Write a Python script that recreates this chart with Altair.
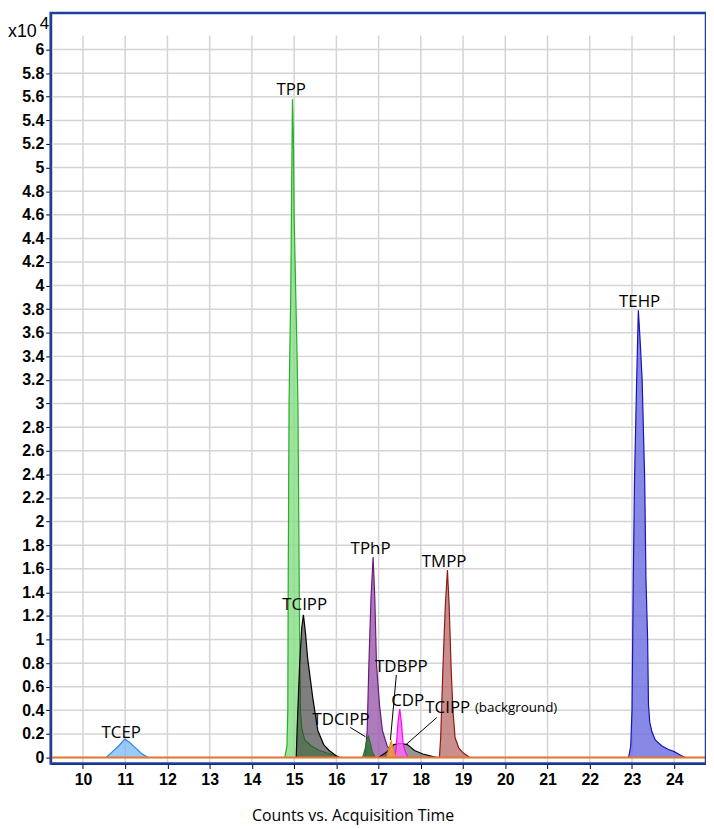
import altair as alt
import pandas as pd

# ---- peak traces: acquisition time (min) vs counts (x10^4) ----
tcep_t = [10.55, 10.7, 10.85, 10.99, 11.1, 11.25, 11.4, 11.55]
tcep_y = [0, 0.05, 0.10, 0.156, 0.13, 0.08, 0.03, 0]

tpp_t = [14.78, 14.83, 14.85, 14.86, 14.88, 14.9, 14.92, 14.94, 14.96, 14.98, 15.0, 15.04, 15.07,
         15.09, 15.11, 15.13, 15.15, 15.18, 15.25, 15.4, 15.6, 15.85, 16.1]
tpp_y = [0, 0.1, 0.4, 1.5, 3.0, 3.5, 3.9, 4.8, 5.58, 5.3, 4.6, 3.9, 3.4,
         3.0, 2.0, 1.0, 0.4, 0.25, 0.15, 0.1, 0.06, 0.03, 0]

tcipp_t = [15.05, 15.07, 15.13, 15.18, 15.22, 15.27, 15.32, 15.44, 15.56, 15.7, 15.83, 16.05]
tcipp_y = [0, 0.23, 0.79, 1.1, 1.21, 1.05, 0.84, 0.51, 0.23, 0.11, 0.06, 0]

tdcipp_t = [16.62, 16.68, 16.72, 16.76, 16.8, 16.85, 16.92]
tdcipp_y = [0, 0.07, 0.15, 0.18, 0.13, 0.05, 0]

tphp_t = [16.68, 16.73, 16.77, 16.82, 16.87, 16.91, 16.95, 17.02, 17.09, 17.2, 17.3, 17.44]
tphp_y = [0, 0.23, 0.79, 1.35, 1.70, 1.35, 0.79, 0.45, 0.23, 0.1, 0.05, 0]

tdbpp_t = [17.19, 17.24, 17.3, 17.35, 17.42]
tdbpp_y = [0, 0.07, 0.14, 0.06, 0]

cdp_t = [17.39, 17.42, 17.46, 17.5, 17.54, 17.58, 17.63, 17.7]
cdp_y = [0, 0.10, 0.30, 0.41, 0.30, 0.12, 0.05, 0]

tcippbg_t = [17.0, 17.2, 17.36, 17.5, 17.68, 17.85, 18.05, 18.38]
tcippbg_y = [0, 0.05, 0.11, 0.12, 0.11, 0.06, 0.03, 0]

tmpp_t = [18.44, 18.47, 18.52, 18.58, 18.63, 18.67, 18.72, 18.76, 18.81, 18.9, 19.0, 19.16]
tmpp_y = [0, 0.17, 0.73, 1.29, 1.59, 1.29, 0.73, 0.4, 0.17, 0.08, 0.04, 0]

tehp_t = [22.92, 22.97, 23.0, 23.03, 23.06, 23.11, 23.15, 23.19, 23.24, 23.3, 23.33, 23.37,
          23.39, 23.42, 23.47, 23.55, 23.7, 23.85, 24.0, 24.15, 24.26]
tehp_y = [0, 0.1, 0.4, 1.52, 2.36, 3.2, 3.79, 3.55, 3.2, 2.36, 1.52, 1.0,
          0.45, 0.3, 0.22, 0.15, 0.1, 0.07, 0.05, 0.02, 0]

# draw order, fill colour, line colour, fill opacity
series = [
    ("TCEP", tcep_t, tcep_y, "#7ab8f5", "#2f86e8", 0.75),
    ("TEHP", tehp_t, tehp_y, "#6a6ae0", "#1515b5", 0.8),
    ("TMPP", tmpp_t, tmpp_y, "#b86a66", "#8b1a1a", 0.75),
    ("TPP", tpp_t, tpp_y, "#86dc86", "#25b025", 0.8),
    ("TCIPP", tcipp_t, tcipp_y, "#303030", "#000000", 0.62),
    ("TPhP", tphp_t, tphp_y, "#9a5aac", "#6a1a7a", 0.8),
    ("TDCIPP", tdcipp_t, tdcipp_y, "#2f6f2f", "#1e7a1e", 0.8),
    ("TCIPP bg", tcippbg_t, tcippbg_y, "#404040", "#000000", 0.55),
    ("CDP", cdp_t, cdp_y, "#ff66ff", "#ff00ff", 0.8),
    ("TDBPP", tdbpp_t, tdbpp_y, "#ffa850", "#ff7f0e", 0.8),
]

# ---- labels ----
label_text = ["TCEP", "TPP", "TCIPP", "TDCIPP", "TPhP", "TDBPP", "CDP", "TMPP", "TEHP"]
label_x = [10.905, 14.93, 15.25, 16.11, 16.81, 17.54, 17.69, 18.55, 23.18]
label_y = [0.21, 5.66, 1.29, 0.32, 1.77, 0.77, 0.48, 1.66, 3.86]

bg_label_x = [18.105]
bg_label_y = [0.42]

lead_x = [16.33, 17.42, 18.38]
lead_y = [0.255, 0.70, 0.34]
lead_x2 = [16.69, 17.28, 17.65]
lead_y2 = [0.176, 0.15, 0.11]

x_ticks = [10, 11, 12, 13, 14, 15, 16, 17, 18, 19, 20, 21, 22, 23, 24]
y_ticks = [0, 0.2, 0.4, 0.6, 0.8, 1, 1.2, 1.4, 1.6, 1.8, 2, 2.2, 2.4, 2.6, 2.8,
           3, 3.2, 3.4, 3.6, 3.8, 4, 4.2, 4.4, 4.6, 4.8, 5, 5.2, 5.4, 5.6, 5.8, 6]

X_DOM = [9.236, 24.752]
Y_DOM = [-0.0505, 6.311]
GRID_TOP = 6.12

xs = alt.Scale(domain=X_DOM, nice=False, zero=False)
ys = alt.Scale(domain=Y_DOM, nice=False, zero=False)

x_axis = alt.Axis(values=x_ticks, format="d", grid=False, labelOverlap=False,
                  title="Counts vs. Acquisition Time", titleFont="Open Sans",
                  titleFontSize=16, titleFontWeight="normal", titleColor="#000",
                  titlePadding=20, titleX=304,
                  labelFont="Liberation Sans", labelFontSize=16, labelFontWeight="bold",
                  labelColor="#000", labelPadding=3, tickColor="#000", tickSize=5,
                  domainColor="#000", domainWidth=2)
y_axis = alt.Axis(values=y_ticks, format=".1~f", grid=False, title=None, labelOverlap=False,
                  labelFont="Liberation Sans", labelFontSize=16, labelFontWeight="bold",
                  labelColor="#000", labelPadding=2, tickColor="#000", tickSize=5,
                  domainColor="#000", domainWidth=2)


def X(f):
    return alt.X(f, scale=xs, axis=x_axis)


def Y(f):
    return alt.Y(f, scale=ys, axis=y_axis)


# grid
vgrid = pd.DataFrame({"x": x_ticks, "y": [Y_DOM[0]] * len(x_ticks), "y2": [GRID_TOP] * len(x_ticks)})
hgrid = pd.DataFrame({"y": y_ticks, "x": [X_DOM[0]] * len(y_ticks), "x2": [X_DOM[1]] * len(y_ticks)})

layers = [
    alt.Chart(vgrid).mark_rule(color="#d4d4d4", strokeWidth=1.5).encode(
        x=X("x:Q"), y=Y("y:Q"), y2="y2:Q"),
    alt.Chart(hgrid).mark_rule(color="#d4d4d4", strokeWidth=1.5).encode(
        x=X("x:Q"), x2="x2:Q", y=Y("y:Q")),
]

for name, t, v, fill, stroke, op in series:
    df = pd.DataFrame({"t": t, "v": v})
    layers.append(
        alt.Chart(df).mark_area(color=fill, opacity=op,
                                line={"color": stroke, "strokeWidth": 1.2}).encode(
            x=X("t:Q"), y=Y("v:Q"))
    )

baseline = pd.DataFrame({"x": [X_DOM[0]], "x2": [X_DOM[1]], "y": [0]})
layers.append(alt.Chart(baseline).mark_rule(color="#e8772e", strokeWidth=2).encode(
    x=X("x:Q"), x2="x2:Q", y=Y("y:Q")))

leads = pd.DataFrame({"x": lead_x, "y": lead_y, "x2": lead_x2, "y2": lead_y2})
layers.append(alt.Chart(leads).mark_rule(color="#000", strokeWidth=1).encode(
    x=X("x:Q"), y=Y("y:Q"), x2="x2:Q", y2="y2:Q"))

labels = pd.DataFrame({"text": label_text, "x": label_x, "y": label_y})
layers.append(alt.Chart(labels).mark_text(font="Open Sans", fontSize=17, color="#000",
                                          align="center", baseline="middle").encode(
    x=X("x:Q"), y=Y("y:Q"), text="text:N"))

bg = pd.DataFrame({"x": bg_label_x, "y": bg_label_y})
layers.append(alt.Chart(bg).mark_text(font="Open Sans", fontSize=17, color="#000",
                                      align="left", baseline="middle").encode(
    x=X("x:Q"), y=Y("y:Q"), text=alt.value("TCIPP")))
layers.append(alt.Chart(bg).mark_text(font="Open Sans", fontSize=13.5, color="#000",
                                      align="left", baseline="middle", dx=50).encode(
    x=X("x:Q"), y=Y("y:Q"), text=alt.value("(background)")))

# outer frame
frame = pd.DataFrame({"x": [X_DOM[0]], "x2": [X_DOM[1]], "y": [Y_DOM[0]], "y2": [Y_DOM[1]]})
layers.append(alt.Chart(frame).mark_rect(fillOpacity=0, stroke="#1f3f9f", strokeWidth=2.5).encode(
    x=X("x:Q"), x2="x2:Q", y=Y("y:Q"), y2="y2:Q"))

# exponent annotation
exp_df = pd.DataFrame({"a": [0]})
layers.append(alt.Chart(exp_df).mark_text(font="Liberation Sans", fontSize=18, color="#000",
                                          align="left", baseline="alphabetic").encode(
    x=alt.value(-43), y=alt.value(24), text=alt.value("x10")))
layers.append(alt.Chart(exp_df).mark_text(font="Liberation Sans", fontSize=17, color="#000",
                                          align="left", baseline="alphabetic").encode(
    x=alt.value(-11), y=alt.value(16), text=alt.value("4")))

chart = alt.layer(*layers).properties(
    width=660, height=756,
    autosize=alt.AutoSizeParams(type="none"),
    padding={"left": 43, "top": 2, "right": 0, "bottom": 60},
).configure_view(stroke=None).configure_axis(labelOverlap=False).configure(background="white")

chart.save("out.html", embed_options={"renderer": "svg", "actions": False})
